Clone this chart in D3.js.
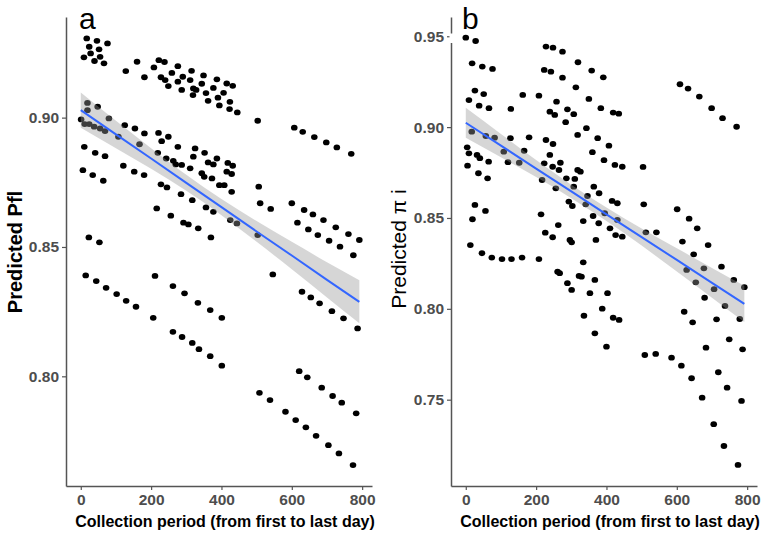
<!DOCTYPE html>
<html><head><meta charset="utf-8">
<script src="https://cdn.jsdelivr.net/npm/d3@7"></script>
<style>body{margin:0;background:#fff}svg{display:block}</style>
</head><body><svg id="c" width="767" height="533"></svg>
<script>
const xTicks = [0, 200, 400, 600, 800];
const yTicksPfl = [0.80, 0.85, 0.90];
const yTicksPi = [0.75, 0.80, 0.85, 0.90, 0.95];
const xTitle = "Collection period (from first to last day)";

const pflPoints = [
[17,0.9306],[46,0.9297],[76,0.9287],[24,0.9274],[52,0.9264],[28,0.9248],[55,0.9235],[9,0.9233],[39,0.9219],[66,0.9210],
[160,0.9216],[128,0.9180],[181,0.9156],[208,0.9194],[222,0.9222],[238,0.9215],[228,0.9156],[276,0.9199],[259,0.9173],[240,0.9145],[249,0.9122],[290,0.9158],[276,0.9139],[311,0.9145],[315,0.9181],[287,0.9107],[320,0.9113],[319,0.9087],[349,0.9163],[387,0.9148],[344,0.9131],[415,0.9132],[432,0.9123],[377,0.9115],[328,0.9107],[356,0.9095],[406,0.9096],[362,0.9065],[390,0.9077],[424,0.9061],[394,0.9047],[423,0.9033],[445,0.9020],[503,0.8988],[607,0.8961],[631,0.8945],[664,0.8925],[698,0.8904],[728,0.8885],[769,0.8860],
[19,0.9057],[48,0.9042],[19,0.9029],[1,0.8993],[80,0.8997],[11,0.8975],[24,0.8975],[38,0.8965],[55,0.8958],[69,0.8948],[125,0.8971],[154,0.8958],[181,0.8939],[221,0.8941],[230,0.8909],[249,0.8926],[276,0.8887],[325,0.8881],[107,0.8926],[167,0.8897],[219,0.8864],[243,0.8842],[263,0.8833],[270,0.8819],[287,0.8817],[311,0.8804],[320,0.8849],[10,0.8887],[41,0.8864],[69,0.8851],[6,0.8797],[34,0.8778],[64,0.8756],[121,0.8814],[152,0.8791],[180,0.8778],[228,0.8742],[245,0.8730],[285,0.8704],[317,0.8681],[216,0.8649],[256,0.8621],[292,0.8594],[306,0.8587],[334,0.8572],[23,0.8537],[53,0.8518],[352,0.8864],[387,0.8842],[362,0.8827],[377,0.8819],[418,0.8825],[432,0.8814],[415,0.8791],[429,0.8782],[344,0.8785],[351,0.8771],[373,0.8765],[394,0.8739],[408,0.8739],[429,0.8713],[356,0.8653],[377,0.8636],[425,0.8604],[444,0.8591],[370,0.8537],[503,0.8546],[506,0.8733],[510,0.8669],[540,0.8647],[600,0.8669],[635,0.8643],[660,0.8626],[690,0.8604],[725,0.8576],[761,0.8550],[792,0.8527],[616,0.8594],[647,0.8568],[674,0.8546],[706,0.8524],[737,0.8501],[775,0.8468],[546,0.8394],
[14,0.8390],[44,0.8368],[72,0.8342],[102,0.8318],[129,0.8292],[157,0.8269],[211,0.8388],[262,0.8349],[295,0.8321],[333,0.8284],[368,0.8256],[401,0.8226],[629,0.8327],[654,0.8305],[679,0.8282],[714,0.8252],[747,0.8224],[787,0.8185],[206,0.8226],[262,0.8172],[288,0.8152],[317,0.8129],[336,0.8105],[368,0.8078],[401,0.8041],[508,0.7936],[538,0.7908],[582,0.7863],[611,0.7831],[640,0.7803],[669,0.7770],[704,0.7734],[734,0.7702],[774,0.7657],[621,0.8020],[644,0.7996],[685,0.7956],[716,0.7924],[742,0.7898],[783,0.7857]
];

const piPoints = [
[0,0.9492],[28,0.9474],[18,0.9351],[47,0.9333],[76,0.9320],[26,0.9201],[51,0.9182],[9,0.9149],[38,0.9118],[66,0.9104],[128,0.9100],[162,0.9177],[208,0.9173],[228,0.9443],[248,0.9437],[275,0.9415],[319,0.9357],[223,0.9315],[242,0.9305],[275,0.9272],[313,0.9219],[258,0.9140],[289,0.9098],[239,0.9085],[253,0.9067],[307,0.9071],[284,0.9027],[318,0.8957],
[17,0.8975],[4,0.8889],[57,0.8951],[82,0.8942],[127,0.8939],[180,0.8944],[9,0.8856],[32,0.8847],[40,0.8829],[65,0.8810],[108,0.8865],[120,0.8807],[166,0.8870],[152,0.8804],[228,0.8929],[248,0.8907],[239,0.8847],[223,0.8801],[247,0.8782],[269,0.8804],[265,0.8764],[286,0.8718],[5,0.8788],[36,0.8746],[318,0.8764],[62,0.8718],
[26,0.8572],[56,0.8539],[19,0.8493],[13,0.8351],[46,0.8306],[74,0.8282],[103,0.8274],[130,0.8274],[160,0.8282],[208,0.8274],[214,0.8520],[226,0.8419],[247,0.8394],[263,0.8461],[296,0.8379],[301,0.8366],[261,0.8204],[267,0.8196],[289,0.8141],[301,0.8104],[322,0.8181],[293,0.8590],[303,0.8566],[217,0.8709],[256,0.8663],[307,0.8672],
[364,0.8672],[379,0.8636],[346,0.8621],[341,0.8575],[416,0.8594],[431,0.8581],[362,0.8511],[378,0.8471],[334,0.8483],[395,0.8526],[431,0.8489],[410,0.8443],[426,0.8406],[445,0.8397],[370,0.8379],[506,0.8575],[512,0.8421],[542,0.8421],[601,0.8548],[635,0.8496],[658,0.8443],[616,0.8370],[648,0.8300],[689,0.8351],[677,0.8223],[628,0.8214],[654,0.8146],[727,0.8232],[762,0.8159],[792,0.8119],[706,0.8108],[679,0.8061],[737,0.8016],[621,0.7984],[645,0.7926],[713,0.7942],[779,0.7944],
[334,0.8256],[329,0.8177],[367,0.8159],[353,0.8086],[403,0.8086],[388,0.8001],[336,0.7962],[419,0.7951],[436,0.7939],[367,0.7865],[400,0.7792],[749,0.7832],[683,0.7786],[787,0.7777],
[358,0.9311],[391,0.9274],[350,0.9155],[384,0.9104],[419,0.9080],[435,0.9074],[343,0.8994],[375,0.8939],[407,0.8898],[360,0.8862],[393,0.8818],[424,0.8792],[445,0.8782],[504,0.8781],[326,0.8755],[310,0.8715],
[609,0.9236],[632,0.9212],[664,0.9168],[699,0.9104],[730,0.9049],[770,0.9002],
[509,0.7746],[540,0.7752],[585,0.7731],[613,0.7687],[642,0.7618],[672,0.7511],[705,0.7365],[734,0.7245],[774,0.7141],[718,0.7651],[743,0.7566],[784,0.7493]
];

const fitX = [0, 100, 200, 300, 400, 500, 600, 700, 792];
const pflFit = [0.9029, 0.8935, 0.8842, 0.8748, 0.8654, 0.8560, 0.8467, 0.8373, 0.8288];
const pflLo  = [0.8961, 0.8882, 0.8802, 0.8717, 0.8623, 0.8520, 0.8414, 0.8305, 0.8205];
const pflHi  = [0.9097, 0.8988, 0.8882, 0.8779, 0.8685, 0.8600, 0.8520, 0.8441, 0.8371];
const piFit  = [0.9024, 0.8898, 0.8772, 0.8646, 0.8520, 0.8395, 0.8269, 0.8143, 0.8027];
const piLo   = [0.8942, 0.8834, 0.8725, 0.8609, 0.8483, 0.8348, 0.8205, 0.8061, 0.7927];
const piHi   = [0.9106, 0.8962, 0.8819, 0.8683, 0.8557, 0.8442, 0.8333, 0.8225, 0.8127];

const svg = d3.select("#c");
svg.append("rect").attr("width", 767).attr("height", 533).attr("fill", "#fff");

const tickFont = "'Liberation Sans', Arial, sans-serif";

function panel(cfg) {
  const x = d3.scaleLinear().domain([-42, 828]).range(cfg.xRange);
  const y = d3.scaleLinear().domain(cfg.yDomain).range([486, 17]);
  const g = svg.append("g");

  g.selectAll("ellipse").data(cfg.points).join("ellipse")
    .attr("cx", d => x(d[0])).attr("cy", d => y(d[1]))
    .attr("rx", 3.3).attr("ry", 2.9).attr("fill", "#000");

  const fit = fitX.map((v, i) => ({x: v, y: cfg.fit[i], lo: cfg.lo[i], hi: cfg.hi[i]}));
  g.append("path").datum(fit)
    .attr("d", d3.area().x(d => x(d.x)).y0(d => y(d.lo)).y1(d => y(d.hi)).curve(d3.curveMonotoneX))
    .attr("fill", "#999999").attr("fill-opacity", 0.4);
  g.append("path").datum(fit)
    .attr("d", d3.line().x(d => x(d.x)).y(d => y(d.y)))
    .attr("fill", "none").attr("stroke", "#3366FF").attr("stroke-width", 2);

  const xa = g.append("g").attr("transform", "translate(0,486)")
    .call(d3.axisBottom(x).tickValues(xTicks).tickSize(4).tickSizeOuter(0).tickPadding(4));
  const ya = g.append("g").attr("transform", `translate(${cfg.xRange[0]},0)`)
    .call(d3.axisLeft(y).tickValues(cfg.yTicks).tickFormat(d3.format(".2f")).tickSize(4).tickSizeOuter(0).tickPadding(3));
  [xa, ya].forEach(a => {
    a.select(".domain").attr("stroke", "#555").attr("stroke-width", 1.5);
    a.selectAll(".tick line").attr("stroke", "#555").attr("stroke-width", 1.2);
    a.selectAll(".tick text").attr("fill", "#4d4d4d").attr("font-family", tickFont)
      .attr("font-weight", "bold").attr("font-size", "15.5px");
  });

  if (cfg.gap) {
    g.append("rect").attr("x", cfg.xRange[0] - 1.5).attr("y", 33.5).attr("width", 4).attr("height", 9.5).attr("fill", "#fff");
  }

  g.append("text").attr("x", (cfg.xRange[0] + cfg.xRange[1]) / 2 + 6).attr("y", 527)
    .attr("text-anchor", "middle").attr("font-family", tickFont).attr("font-weight", "bold")
    .attr("font-size", "16px").attr("fill", "#000").text(xTitle);

  g.append("text").attr("transform", `translate(${cfg.yTitleX},${cfg.yTitleY}) rotate(-90)`)
    .attr("text-anchor", "middle").attr("font-family", cfg.yTitleFont)
    .attr("font-weight", cfg.yTitleWeight).attr("font-size", cfg.yTitleSize).attr("fill", "#000")
    .text(cfg.yTitle);

  g.append("text").attr("x", cfg.labelX).attr("y", 28.5).attr("font-family", tickFont)
    .attr("font-size", "30px").attr("fill", "#000").text(cfg.label);
}

panel({xRange: [66, 372], yDomain: [0.7576, 0.9389], yTicks: yTicksPfl, points: pflPoints,
  fit: pflFit, lo: pflLo, hi: pflHi, yTitle: "Predicted Pfl", yTitleX: 22, yTitleY: 252,
  yTitleFont: tickFont, yTitleWeight: "bold", yTitleSize: "20px", label: "a", labelX: 79});
panel({xRange: [451, 757], yDomain: [0.7025, 0.9606], yTicks: yTicksPi, points: piPoints,
  fit: piFit, lo: piLo, hi: piHi, yTitle: "Predicted π i", yTitleX: 406, yTitleY: 249,
  yTitleFont: tickFont, yTitleWeight: "normal", yTitleSize: "21px", label: "b", labelX: 462, gap: true});
</script></body></html>
